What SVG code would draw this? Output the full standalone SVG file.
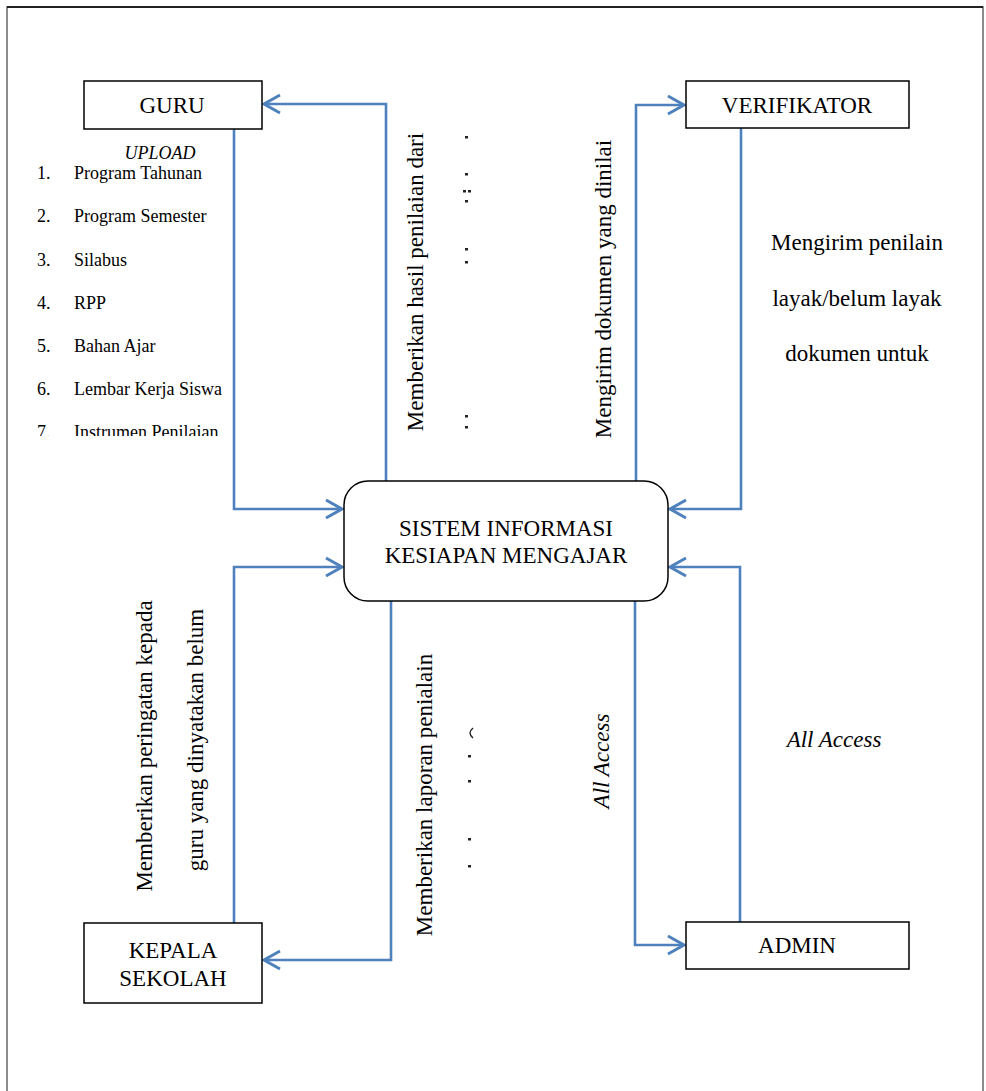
<svg xmlns="http://www.w3.org/2000/svg" width="986" height="1091" viewBox="0 0 986 1091">
<style>
.box{fill:#fff;stroke:#000;stroke-width:1.5}
.t{font-family:"Liberation Serif","Times New Roman",serif;fill:#000}
.big{font-size:23px}
.lst{font-size:18px}
.it{font-style:italic}
.c{fill:none;stroke:#4F81BD;stroke-width:2.6}
.frag{fill:#222}
</style>
<defs>
<marker id="ah" markerUnits="userSpaceOnUse" markerWidth="22" markerHeight="24" refX="18" refY="11" orient="auto">
<path d="M2,2 L18,11 L2,20" fill="none" stroke="#4F81BD" stroke-width="3"/>
</marker>
<clipPath id="listclip"><rect x="0" y="0" width="300" height="436"/></clipPath>
</defs>
<rect x="7" y="7" width="976" height="1100" fill="#fff" stroke="#666" stroke-width="1.5"/>
<line x1="7" y1="7" x2="983" y2="7" stroke="#000" stroke-width="1.5"/>

<g id="connectors">
<polyline class="c" points="234,129 234,509 342,509" marker-end="url(#ah)"/>
<polyline class="c" points="386,481 386,104 264,104" marker-end="url(#ah)"/>
<polyline class="c" points="636,481 636,105 684,105" marker-end="url(#ah)"/>
<polyline class="c" points="741,128 741,509 670,509" marker-end="url(#ah)"/>
<polyline class="c" points="234,923 234,567 342,567" marker-end="url(#ah)"/>
<polyline class="c" points="391,601 391,960 264,960" marker-end="url(#ah)"/>
<polyline class="c" points="635,601 635,945 684,945" marker-end="url(#ah)"/>
<polyline class="c" points="740,922 740,567 670,567" marker-end="url(#ah)"/>
</g>

<g id="guru">
<rect class="box" x="84" y="81" width="178" height="48"/>
<text class="t big" x="172" y="113" text-anchor="middle">GURU</text>
</g>
<g id="verifikator">
<rect class="box" x="686" y="81" width="223" height="47"/>
<text class="t big" x="797" y="113" text-anchor="middle">VERIFIKATOR</text>
</g>
<g id="sistem">
<rect class="box" x="344" y="481" width="324" height="120" rx="24" ry="24"/>
<text class="t big" x="506" y="536" text-anchor="middle">SISTEM INFORMASI</text>
<text class="t big" x="506" y="563" text-anchor="middle">KESIAPAN MENGAJAR</text>
</g>
<g id="kepala-sekolah">
<rect class="box" x="84" y="923" width="178" height="80"/>
<text class="t big" x="173" y="958" text-anchor="middle">KEPALA</text>
<text class="t big" x="173" y="986" text-anchor="middle">SEKOLAH</text>
</g>
<g id="admin">
<rect class="box" x="686" y="922" width="223" height="47"/>
<text class="t big" x="797" y="953" text-anchor="middle">ADMIN</text>
</g>

<g id="upload-list">
<text class="t lst it" x="160" y="159" text-anchor="middle">UPLOAD</text>
<g clip-path="url(#listclip)">
<text class="t lst" x="37" y="179">1.</text><text class="t lst" x="74" y="179">Program Tahunan</text>
<text class="t lst" x="37" y="222">2.</text><text class="t lst" x="74" y="222">Program Semester</text>
<text class="t lst" x="37" y="266">3.</text><text class="t lst" x="74" y="266">Silabus</text>
<text class="t lst" x="37" y="309">4.</text><text class="t lst" x="74" y="309">RPP</text>
<text class="t lst" x="37" y="352">5.</text><text class="t lst" x="74" y="352">Bahan Ajar</text>
<text class="t lst" x="37" y="395">6.</text><text class="t lst" x="74" y="395">Lembar Kerja Siswa</text>
<text class="t lst" x="37" y="438">7.</text><text class="t lst" x="74" y="438">Instrumen Penilaian</text>
</g>
</g>

<g id="labels">
<text class="t big" transform="translate(423,282) rotate(-90)" text-anchor="middle">Memberikan hasil penilaian dari</text>
<text class="t big" transform="translate(611,289) rotate(-90)" text-anchor="middle">Mengirim dokumen yang dinilai</text>
<text class="t big" x="857" y="250" text-anchor="middle">Mengirim penilain</text>
<text class="t big" x="857" y="306" text-anchor="middle">layak/belum layak</text>
<text class="t big" x="857" y="361" text-anchor="middle">dokumen untuk</text>
<text class="t big" transform="translate(152,746) rotate(-90)" text-anchor="middle">Memberikan peringatan kepada</text>
<text class="t big" transform="translate(203,740) rotate(-90)" text-anchor="middle">guru yang dinyatakan belum</text>
<text class="t big" transform="translate(432,795) rotate(-90)" text-anchor="middle">Memberikan laporan penialain</text>
<text class="t big it" transform="translate(609,761) rotate(-90)" text-anchor="middle">All Access</text>
<text class="t big it" x="834" y="747" text-anchor="middle">All Access</text>
</g>

<g id="clipped-fragments">
<rect class="frag" x="465" y="136" width="3" height="2.5"/>
<rect class="frag" x="465" y="173" width="3" height="2.5"/>
<rect class="frag" x="463" y="190" width="3" height="2.5"/>
<rect class="frag" x="468" y="190" width="3" height="2.5"/>
<rect class="frag" x="465" y="200" width="3" height="2.5"/>
<rect class="frag" x="465" y="248" width="3" height="2.5"/>
<rect class="frag" x="465" y="261" width="3" height="2.5"/>
<rect class="frag" x="465" y="415" width="3" height="2.5"/>
<rect class="frag" x="465" y="426" width="3" height="2.5"/>
<path d="M473,728 Q467,733 473,738" fill="none" stroke="#222" stroke-width="1.4"/>
<rect class="frag" x="468" y="755" width="3" height="2.5"/>
<rect class="frag" x="468" y="780" width="3" height="2.5"/>
<rect class="frag" x="468" y="838" width="3" height="2.5"/>
<rect class="frag" x="468" y="865" width="3" height="2.5"/>
</g>
</svg>
